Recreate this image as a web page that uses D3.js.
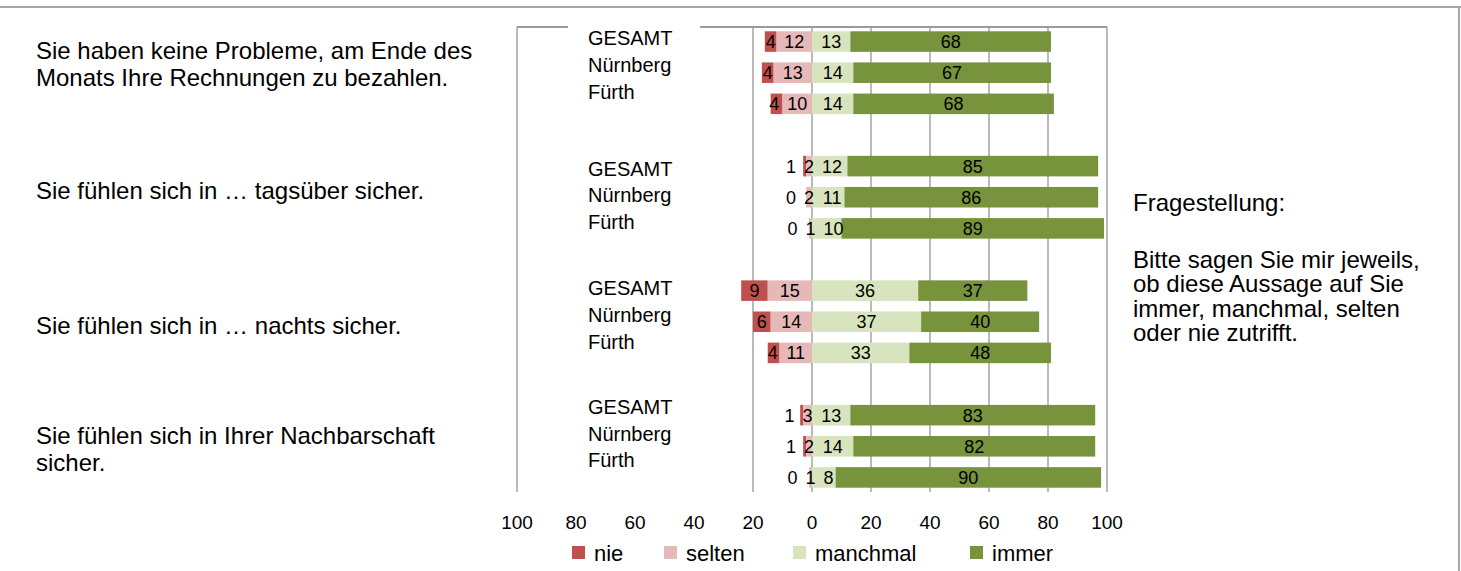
<!DOCTYPE html>
<html lang="de">
<head>
<meta charset="utf-8">
<script src="https://cdn.jsdelivr.net/npm/d3@7"></script>
<style>
  html, body { margin: 0; padding: 0; background: #fff; }
  svg { display: block; font-family: "Liberation Sans", Arial, sans-serif; }
</style>
</head>
<body>
<svg id="chart" width="1461" height="571"></svg>
<script>
// ---- data ---------------------------------------------------------------
const categories = ["GESAMT", "Nürnberg", "Fürth"];
const statements = [
  ["Sie haben keine Probleme, am Ende des", "Monats Ihre Rechnungen zu bezahlen."],
  ["Sie fühlen sich in … tagsüber sicher."],
  ["Sie fühlen sich in … nachts sicher."],
  ["Sie fühlen sich in Ihrer Nachbarschaft", "sicher."]
];
const seriesNames = ["nie", "selten", "manchmal", "immer"];
// one value per bar: statement 1 (GESAMT, Nürnberg, Fürth), statement 2, ...
const nie      = [4, 4, 4,   1, 0, 0,   9, 6, 4,   1, 1, 0];
const selten   = [12, 13, 10, 2, 2, 1,  15, 14, 11, 3, 2, 1];
const manchmal = [13, 14, 14, 12, 11, 10, 36, 37, 33, 13, 14, 8];
const immer    = [68, 67, 68, 85, 86, 89, 37, 40, 48, 83, 82, 90];
const tickValues = [-100, -80, -60, -40, -20, 0, 20, 40, 60, 80, 100];
const noteTitle = "Fragestellung:";
const noteLines = ["Bitte sagen Sie mir jeweils,", "ob diese Aussage auf Sie",
                   "immer, manchmal, selten", "oder nie zutrifft."];

// ---- layout -------------------------------------------------------------
const colors = { nie: "#C0504D", selten: "#E6B9B8", manchmal: "#D7E4BD", immer: "#77933C" };
const plot = { left: 517, right: 1107, top: 26, bottom: 493 };
const statementShift = [-9, -7, 4, 3];     // vertical nudge of the question text per block
const categoryShift  = [-8, -2, -7, -13];  // vertical nudge of the city label block
const fontMain = 24, fontCat = 20, fontVal = 18, fontAxis = 19, fontLegend = 22;

const svg = d3.select("#chart");

// frame of the page
svg.append("line").attr("x1", 0).attr("x2", 1461).attr("y1", 7).attr("y2", 7)
  .attr("stroke", "#a6a6a6").attr("stroke-width", 2);
svg.append("line").attr("x1", 1459).attr("x2", 1459).attr("y1", 7).attr("y2", 571)
  .attr("stroke", "#a6a6a6").attr("stroke-width", 2);

// ---- scales -------------------------------------------------------------
const x = d3.scaleLinear().domain([-100, 100]).range([plot.left, plot.right]);

// 3 bars per statement, one empty slot between statements
const nGroups = statements.length;
const slotOf = (g, i) => g * (categories.length + 1) + i;
const nSlots = nGroups * (categories.length + 1) - 1;
const y = d3.scaleBand().domain(d3.range(nSlots)).range([plot.top, plot.bottom])
  .paddingInner(0.34).paddingOuter(0.17);

const rows = nie.map((_, k) => {
  const g = Math.floor(k / categories.length), i = k % categories.length;
  return { g, i, slot: slotOf(g, i), nie: nie[k], selten: selten[k], manchmal: manchmal[k], immer: immer[k] };
});

// ---- grid ---------------------------------------------------------------
svg.append("g").selectAll("line").data(tickValues).join("line")
  .attr("x1", d => x(d)).attr("x2", d => x(d))
  .attr("y1", plot.top + 1).attr("y2", plot.bottom - 1)
  .attr("stroke", "#8c8c8c").attr("stroke-width", 1.2);
svg.append("line").attr("x1", x(-100)).attr("x2", x(100))
  .attr("y1", plot.top + 1).attr("y2", plot.top + 1)
  .attr("stroke", "#9a9a9a").attr("stroke-width", 2);

// ---- bars ---------------------------------------------------------------
const segments = rows.flatMap(r => [
  { r, key: "nie",      x0: -(r.nie + r.selten), x1: -r.selten, v: r.nie },
  { r, key: "selten",   x0: -r.selten, x1: 0, v: r.selten },
  { r, key: "manchmal", x0: 0, x1: r.manchmal, v: r.manchmal },
  { r, key: "immer",    x0: r.manchmal, x1: r.manchmal + r.immer, v: r.immer }
]);

svg.append("g").selectAll("rect").data(segments.filter(s => s.v > 0)).join("rect")
  .attr("x", s => x(s.x0)).attr("width", s => x(s.x1) - x(s.x0))
  .attr("y", s => y(s.r.slot)).attr("height", y.bandwidth())
  .attr("fill", s => colors[s.key]);

// ---- value labels (centered, nudged apart when they collide) --------------
const pad = 4;
const textW = v => String(v).length * 0.556 * fontVal + 2 * pad;
const placed = [];
d3.groups(segments, s => s.r.slot).forEach(([, segs]) => {
  const L = segs.map(s => ({ s, cx: x((s.x0 + s.x1) / 2), w: textW(s.v) }));
  const [l1, l2, l3, l4] = L;
  if (l3.cx - l3.w / 2 < l2.cx + l2.w / 2) l3.cx = l2.cx + l2.w / 2 + l3.w / 2;
  if (l4.cx - l4.w / 2 < l3.cx + l3.w / 2) l4.cx = l3.cx + l3.w / 2 + l4.w / 2;
  if (l1.cx + l1.w / 2 > l2.cx - l2.w / 2) l1.cx = l2.cx - l2.w / 2 - l1.w / 2;
  placed.push(...L);
});
svg.append("g").attr("font-size", fontVal).attr("fill", "#000").attr("text-anchor", "middle")
  .selectAll("text").data(placed).join("text")
  .attr("x", d => d.cx)
  .attr("y", d => y(d.s.r.slot) + y.bandwidth() / 2 + fontVal * 0.36)
  .text(d => d.s.v);

// ---- city labels in a white box over the left half of the grid ------------
svg.append("rect").attr("x", 568).attr("y", plot.top - 1).attr("width", 132)
  .attr("height", plot.bottom - plot.top + 2).attr("fill", "#fff");
const catLine = 26.7;
statements.forEach((_, g) => {
  const mid = y(slotOf(g, 1)) + y.bandwidth() / 2 + categoryShift[g];
  svg.append("g").attr("font-size", fontCat).selectAll("text").data(categories).join("text")
    .attr("x", 588)
    .attr("y", (d, i) => mid + (i - 1) * catLine + fontCat * 0.36)
    .text(d => d);
});

// ---- question texts on the left -----------------------------------------
const mainLine = 27;
statements.forEach((lines, g) => {
  const mid = y(slotOf(g, 1)) + y.bandwidth() / 2 + statementShift[g];
  svg.append("g").attr("font-size", fontMain).selectAll("text").data(lines).join("text")
    .attr("x", 36)
    .attr("y", (d, i) => mid + (i - (lines.length - 1) / 2) * mainLine + fontMain * 0.36)
    .text(d => d);
});

// ---- axis labels (absolute values on both sides) --------------------------
svg.append("g").attr("font-size", fontAxis).attr("text-anchor", "middle")
  .selectAll("text").data(tickValues).join("text")
  .attr("x", d => x(d)).attr("y", 522 + fontAxis * 0.36)
  .text(d => Math.abs(d));

// ---- legend -------------------------------------------------------------
const legendX = d3.scalePoint().domain(seriesNames).range([572, 970]);
const leg = svg.append("g").selectAll("g").data(seriesNames).join("g")
  .attr("transform", d => `translate(${d === "manchmal" ? 793 : d === "selten" ? 664 : legendX(d)},553)`);
leg.append("rect").attr("x", 0).attr("y", -7).attr("width", 13).attr("height", 13)
  .attr("fill", d => colors[d]);
leg.append("text").attr("x", 22).attr("y", fontLegend * 0.36).attr("font-size", fontLegend).text(d => d);

// ---- note on the right --------------------------------------------------
const note = svg.append("g").attr("font-size", fontMain);
note.append("text").attr("x", 1133).attr("y", 202 + fontMain * 0.36).text(noteTitle);
note.selectAll("text.l").data(noteLines).join("text").attr("class", "l")
  .attr("x", 1133).attr("y", (d, i) => 259 + i * 24.6 + fontMain * 0.36).text(d => d);
</script>
</body>
</html>
